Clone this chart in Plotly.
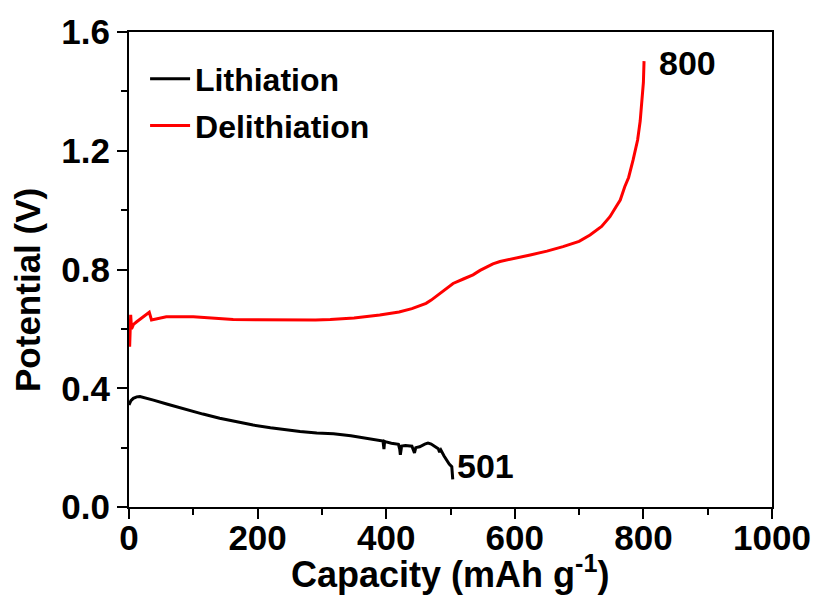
import plotly.graph_objects as go

# Lithiation (black) curve
lith_cap = [0, 3, 6.7, 12, 17, 25, 38, 60, 90, 115, 141, 165, 193, 220, 245, 266, 292, 318, 345, 370,
            383, 395, 396.5, 397.5, 398.5, 408, 419, 421, 422, 424, 430, 440, 444, 446, 452, 460, 465,
            470, 477, 481, 483, 485, 490, 494, 498, 502, 503, 503.5]
lith_v = [0.344, 0.358, 0.366, 0.371, 0.372, 0.368, 0.360, 0.346, 0.327, 0.313, 0.299, 0.288, 0.276,
          0.267, 0.259, 0.254, 0.249, 0.247, 0.240, 0.231, 0.227, 0.222, 0.195, 0.221, 0.220, 0.215,
          0.211, 0.195, 0.176, 0.205, 0.207, 0.205, 0.182, 0.200, 0.203, 0.212, 0.215, 0.212, 0.203,
          0.196, 0.185, 0.192, 0.172, 0.158, 0.145, 0.136, 0.115, 0.093]

# Delithiation (red) curve
delith_cap = [1, 2, 2.6, 4, 7, 12, 17, 22, 27, 31.5, 35, 43, 58, 100, 130, 162, 200, 235, 261, 290,
              313, 350, 390, 420, 440, 452, 462, 470, 477, 484, 494, 504, 520, 535, 546, 556, 566, 577,
              598, 624, 650, 675, 700, 717, 735, 748, 757, 764, 771, 777, 784, 791, 795, 798, 800, 801]
delith_v = [0.54, 0.60, 0.647, 0.60, 0.615, 0.624, 0.632, 0.641, 0.650, 0.656, 0.630, 0.633, 0.641,
            0.641, 0.636, 0.632, 0.631, 0.630, 0.630, 0.630, 0.632, 0.637, 0.647, 0.657, 0.668, 0.677,
            0.686, 0.697, 0.708, 0.720, 0.737, 0.753, 0.768, 0.782, 0.797, 0.809, 0.819, 0.827,
            0.838, 0.849, 0.862, 0.877, 0.895, 0.916, 0.945, 0.978, 1.010, 1.034, 1.079, 1.110, 1.169,
            1.236, 1.300, 1.370, 1.430, 1.502]

x_ticks = [0, 200, 400, 600, 800, 1000]
y_ticks = [0.0, 0.4, 0.8, 1.2, 1.6]
y_tick_text = ["0.0", "0.4", "0.8", "1.2", "1.6"]

labels = [("800", 868, 1.495), ("501", 554, 0.138)]

FONT = "Liberation Sans, Arial, sans-serif"

fig = go.Figure()
fig.add_trace(go.Scatter(x=lith_cap, y=lith_v, mode="lines", name="<b>Lithiation</b>",
                         line=dict(color="black", width=3), legendgroup="a"))
fig.add_trace(go.Scatter(x=delith_cap, y=delith_v, mode="lines", name="<b>Delithiation</b>",
                         line=dict(color="#ff0000", width=3), legendgroup="b"))

for txt, xv, yv in labels:
    fig.add_annotation(x=xv, y=yv, text="<b>%s</b>" % txt, showarrow=False,
                       font=dict(family=FONT, size=34, color="black"),
                       xanchor="center", yanchor="middle")

fig.add_annotation(xref="paper", yref="paper", x=-0.157, y=0.457, text="<b>Potential (V)</b>",
                   textangle=-90, showarrow=False, font=dict(family=FONT, size=35, color="black"),
                   xanchor="center", yanchor="middle")
fig.add_annotation(xref="paper", yref="paper", x=0.499, y=-0.137,
                   text="<b>Capacity (mAh g<sup>-1</sup>)</b>",
                   showarrow=False, font=dict(family=FONT, size=36, color="black"),
                   xanchor="center", yanchor="middle")

axis_common = dict(showline=True, linecolor="black", linewidth=2, mirror=True, showgrid=False,
                   zeroline=False, ticks="outside", ticklen=10, tickwidth=2, tickcolor="black",
                   automargin=False,
                   tickfont=dict(family=FONT, size=35, color="black"))

fig.update_xaxes(range=[0, 1000], tickvals=x_ticks, ticktext=["<b>%d</b>" % v for v in x_ticks],
                 minor=dict(dtick=100, ticks="outside", ticklen=6, tickwidth=2, tickcolor="black"),
                 ticklabelstandoff=-11,
                 **axis_common)
fig.update_yaxes(range=[0, 1.6], tickvals=y_ticks, ticktext=["<b>%s</b>" % t for t in y_tick_text],
                 minor=dict(dtick=0.2, ticks="outside", ticklen=6, tickwidth=2, tickcolor="black"),
                 **axis_common)

fig.update_layout(
    width=816, height=595,
    margin=dict(l=129, r=44, t=32, b=88),
    paper_bgcolor="white", plot_bgcolor="white",
    showlegend=True,
    legend=dict(x=0.025, y=0.959, xanchor="left", yanchor="top", bgcolor="rgba(0,0,0,0)",
                font=dict(family=FONT, size=32, color="black"), tracegroupgap=2,
                itemwidth=40),
)

fig.write_html("out.html")
